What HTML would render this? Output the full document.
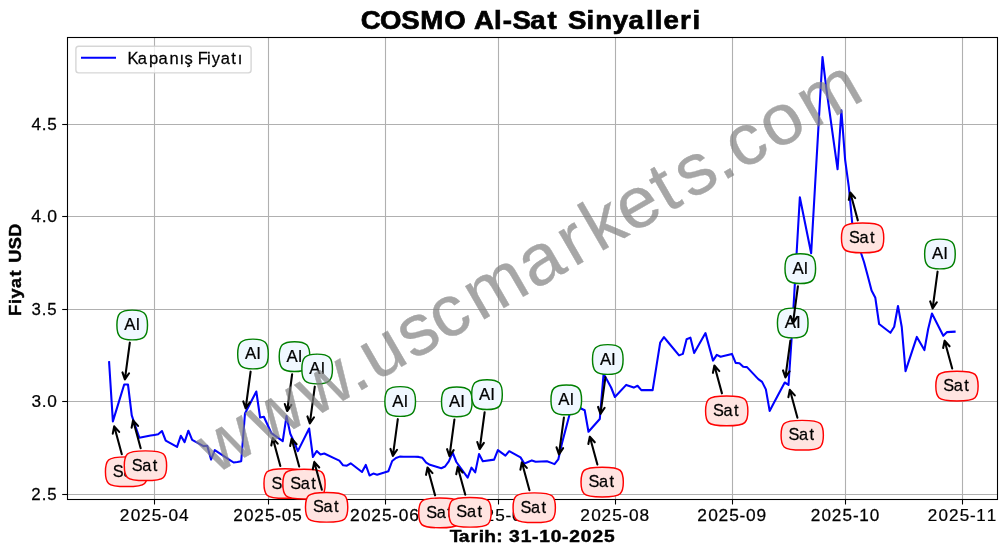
<!DOCTYPE html>
<html><head><meta charset="utf-8"><title>COSMO Al-Sat Sinyalleri</title>
<style>html,body{margin:0;padding:0;background:#fff}body{width:1006px;height:554px;overflow:hidden;font-family:"Liberation Sans",sans-serif}svg{display:block;font-family:"Liberation Sans",sans-serif}</style>
</head><body>
<svg width="1006" height="554" viewBox="0 0 1006 554">
<rect x="0" y="0" width="1006" height="554" fill="#ffffff"/>
<g opacity="0.999">
<g stroke="#b0b0b0" stroke-width="1.1" fill="none">
<line x1="154.5" y1="37.5" x2="154.5" y2="499.5"/>
<line x1="268.5" y1="37.5" x2="268.5" y2="499.5"/>
<line x1="385.5" y1="37.5" x2="385.5" y2="499.5"/>
<line x1="498.5" y1="37.5" x2="498.5" y2="499.5"/>
<line x1="615.5" y1="37.5" x2="615.5" y2="499.5"/>
<line x1="732.5" y1="37.5" x2="732.5" y2="499.5"/>
<line x1="845.5" y1="37.5" x2="845.5" y2="499.5"/>
<line x1="962.5" y1="37.5" x2="962.5" y2="499.5"/>
<line x1="67.5" y1="124.5" x2="997.5" y2="124.5"/>
<line x1="67.5" y1="216.5" x2="997.5" y2="216.5"/>
<line x1="67.5" y1="309.5" x2="997.5" y2="309.5"/>
<line x1="67.5" y1="401.5" x2="997.5" y2="401.5"/>
<line x1="67.5" y1="494.5" x2="997.5" y2="494.5"/>
</g>
<polyline points="109.11,362.2 112.88,421.4 124.2,384.5 127.98,384.5 131.75,415.4 135.53,426.55 139.3,437.7 150.63,435.6 154.4,434.9 158.17,434.2 161.95,431 165.72,440.6 177.05,446.9 180.82,435.8 184.6,442.1 188.37,430.7 192.15,439.8 203.47,446.1 207.24,445.8 211.02,459.6 214.79,450.1 218.57,452.58 229.89,460.02 233.66,462.5 237.44,462 241.21,461.2 244.99,413.5 256.31,391.5 260.09,417.5 263.86,416.8 267.63,425 271.41,433.2 282.73,441.2 286.51,416.1 290.28,433.8 294.06,442 297.83,451.1 309.15,428.5 312.93,457 316.7,451 320.48,454.5 324.25,453.5 335.58,458.83 339.35,460.6 343.12,465.3 346.9,465.7 350.67,463.3 362,472 365.77,464.9 369.55,475.5 373.32,473.6 377.1,474.7 388.42,471.2 392.19,461 395.97,458 399.74,456.6 403.52,456.7 414.84,456.8 418.62,456.9 422.39,457.8 426.16,462.6 429.94,464.8 441.26,468.2 445.04,466.5 448.81,461.3 452.59,452.5 456.36,462 467.68,477.6 471.46,467.6 475.23,472.4 479.01,454.1 482.78,461.2 494.11,459.6 497.88,450.1 501.65,452.9 505.43,455.7 509.2,451.2 520.53,457.4 524.3,463.6 528.08,462 531.85,460.4 535.62,461.7 546.95,461.2 550.72,462.65 554.5,464.1 558.27,459.4 562.05,442.9 573.37,400 577.14,404 580.92,408.5 584.69,410.3 588.47,431.8 599.79,419 603.57,374 607.34,380.5 611.11,387.5 614.89,397 626.21,384.9 629.99,386.25 633.76,387.6 637.54,385.7 641.31,390.1 652.63,390.1 656.41,366.4 660.18,342.7 663.96,337.2 667.73,341.75 679.06,355.4 682.83,353.9 686.6,339.2 690.38,337.6 694.15,353.1 705.48,333.1 709.25,346.85 713.03,360.6 716.8,354.9 720.58,356.8 731.9,353.9 735.67,362.9 739.45,363.2 743.22,366.7 747,367.1 758.32,379.1 762.09,381.9 765.87,389.4 769.64,410.9 773.42,403.8 784.74,382.5 788.52,384.9 792.29,328.1 796.07,262.7 799.84,197.3 811.16,253.2 814.94,187.8 818.71,122.4 822.49,57 826.26,88 837.58,169.3 841.36,110.2 845.13,159.8 848.91,187.6 852.68,228 864.01,262 867.78,276 871.56,290.6 875.33,297.8 879.1,324 890.43,332.8 894.2,326.8 897.98,306 901.75,327 905.53,371.1 916.85,336.9 920.62,343.5 924.4,350.1 928.17,329 931.95,313.5 943.27,335.8 947.05,332.1 950.82,331.9 954.59,331.7" fill="none" stroke="#0000ff" stroke-width="2.08" stroke-linejoin="round" stroke-linecap="square"/>
<rect x="67.5" y="37.5" width="930" height="462" fill="none" stroke="#000" stroke-width="1.1"/>
<g stroke="#000" stroke-width="1.1">
<line x1="154.5" y1="499.5" x2="154.5" y2="504.5"/>
<line x1="268.5" y1="499.5" x2="268.5" y2="504.5"/>
<line x1="385.5" y1="499.5" x2="385.5" y2="504.5"/>
<line x1="498.5" y1="499.5" x2="498.5" y2="504.5"/>
<line x1="615.5" y1="499.5" x2="615.5" y2="504.5"/>
<line x1="732.5" y1="499.5" x2="732.5" y2="504.5"/>
<line x1="845.5" y1="499.5" x2="845.5" y2="504.5"/>
<line x1="962.5" y1="499.5" x2="962.5" y2="504.5"/>
<line x1="62.2" y1="124.5" x2="67.5" y2="124.5"/>
<line x1="62.2" y1="216.5" x2="67.5" y2="216.5"/>
<line x1="62.2" y1="309.5" x2="67.5" y2="309.5"/>
<line x1="62.2" y1="401.5" x2="67.5" y2="401.5"/>
<line x1="62.2" y1="494.5" x2="67.5" y2="494.5"/>
</g>
<g fill="#000" stroke="#000" stroke-width="0.25">
<text transform="translate(154.4,521) scale(1.0154,1)" x="-34.02 -23.36 -13.13 -2.53 7.61 13.89 24.34" font-size="17px">2025-04</text>
<text transform="translate(267.63,521) scale(1.0062,1)" x="-34.28 -23.53 -13.21 -2.51 7.71 14.07 24.54" font-size="17px">2025-05</text>
<text transform="translate(384.64,521) scale(1.0206,1)" x="-33.87 -23.26 -13.09 -2.55 7.56 13.8 24.19" font-size="17px">2025-06</text>
<text transform="translate(497.88,521) scale(1.0117,1)" x="-34.12 -23.43 -13.16 -2.53 7.65 13.96 24.41" font-size="17px">2025-07</text>
<text transform="translate(614.89,521) scale(1.0169,1)" x="-33.97 -23.33 -13.12 -2.54 7.6 13.87 24.3" font-size="17px">2025-08</text>
<text transform="translate(731.9,521) scale(1.0203,1)" x="-33.88 -23.27 -13.09 -2.55 7.56 13.81 24.15" font-size="17px">2025-09</text>
<text transform="translate(845.13,521) scale(1.0083,1)" x="-34.22 -23.49 -13.19 -2.52 7.69 13.94 24.54" font-size="17px">2025-10</text>
<text transform="translate(962.14,521) scale(1.0012,1)" x="-34.43 -23.62 -13.25 -2.5 7.76 14.08 24.67" font-size="17px">2025-11</text>
<text transform="translate(57.4,130) scale(1.0103,1)" x="-25.72 -15.49 -10.04" font-size="17px">4.5</text>
<text transform="translate(57.4,222) scale(1.0359,1)" x="-25.2 -15.16 -9.85" font-size="17px">4.0</text>
<text transform="translate(57.4,315) scale(0.9909,1)" x="-26.11 -15.74 -10.15" font-size="17px">3.5</text>
<text transform="translate(57.4,407) scale(1.0174,1)" x="-25.55 -15.4 -9.94" font-size="17px">3.0</text>
<text transform="translate(57.4,500) scale(0.9925,1)" x="-26.32 -15.72 -10.14" font-size="17px">2.5</text>
</g>
<text transform="translate(361.8,28.6) scale(1.0824,1)" x="-1.07 16.86 36.51 54.09 76.11 96.32 103.63 122.19 130.24 139.19 155.73 171.48 183 190.5 207.63 215.57 231.9 246.46 262.64 270.55 278.66 293.97 305.53" font-size="25.5px" font-weight="bold" stroke="#000" stroke-width="0.7">COSMO Al-Sat Sinyalleri</text>
<text transform="translate(449.82,541.5) scale(1.1301,1)" x="-0.17 7.84 18.23 25.56 30.48 41.06 47.05 52.4 62.67 72.74 79.05 89.3 99.38 105.66 115.95 126.18 136.49" font-size="17px" font-weight="bold" stroke="#000" stroke-width="0.45">Tarih: 31-10-2025</text>
<text transform="translate(20.85,315.83) rotate(-90) scale(1.0686,1)" x="-0.06 10.97 16.29 26.12 36.69 44.5 49.78 62.27 73.91" font-size="17px" font-weight="bold" stroke="#000" stroke-width="0.45">Fiyat USD</text>
<rect x="75.9" y="46.2" width="175.2" height="26.7" rx="2.8" ry="2.8" fill="#ffffff" fill-opacity="0.8" stroke="#cccccc" stroke-opacity="0.8" stroke-width="1.4"/>
<line x1="81" y1="57.7" x2="116" y2="57.7" stroke="#0000ff" stroke-width="2.08"/>
<text transform="translate(127.26,63.6) scale(0.9730,1)" x="0.37 10.83 22.26 32.2 43.54 53.68 58.74 67.7 72.5 81.89 86.97 96.19 106.99 113.53" font-size="17px" stroke="#000" stroke-width="0.25">Kapanış Fiyatı</text>
<g>
<path d="M121.81,454.17 L114.22,426.32 M119.19,431.88 L114.22,426.32 L112.76,433.63" fill="none" stroke="#000" stroke-width="2.08" stroke-linecap="round" stroke-linejoin="round"/>
<path d="M108.56,459.98 C112.73,455.81 140.43,455.81 144.6,459.98 C148.77,464.15 148.77,479.25 144.6,483.42 C140.43,487.59 112.73,487.59 108.56,483.42 C104.39,479.25 104.39,464.15 108.56,459.98 Z" fill="#ffe4e1" stroke="#ff0000" stroke-width="1.45"/>
<text transform="translate(126.58,476.85) scale(0.9597,1)" x="-14.3 -3.25 7.64" font-size="17px" stroke="#000" stroke-width="0.25">Sat</text>
</g>
<g>
<path d="M129.83,342.66 L124.88,379.45 M122.47,372.39 L124.88,379.45 L129.07,373.28" fill="none" stroke="#000" stroke-width="2.08" stroke-linecap="round" stroke-linejoin="round"/>
<path d="M120.03,313.23 C124.2,309.06 140.21,309.06 144.38,313.23 C148.55,317.4 148.55,332.6 144.38,336.77 C140.21,340.94 124.2,340.94 120.03,336.77 C115.86,332.6 115.86,317.4 120.03,313.23 Z" fill="#f0f8ff" stroke="#008000" stroke-width="1.45"/>
<text transform="translate(132.2,330.2) scale(0.9893,1)" x="-8.01 3.87" font-size="17px" stroke="#000" stroke-width="0.25">Al</text>
</g>
<g>
<path d="M140.68,448.17 L133.09,420.32 M138.06,425.88 L133.09,420.32 L131.63,427.63" fill="none" stroke="#000" stroke-width="2.08" stroke-linecap="round" stroke-linejoin="round"/>
<path d="M127.43,453.98 C131.6,449.81 159.31,449.81 163.48,453.98 C167.65,458.15 167.65,473.25 163.48,477.42 C159.31,481.59 131.6,481.59 127.43,477.42 C123.26,473.25 123.26,458.15 127.43,453.98 Z" fill="#ffe4e1" stroke="#ff0000" stroke-width="1.45"/>
<text transform="translate(145.45,470.85) scale(0.9597,1)" x="-14.3 -3.25 7.64" font-size="17px" stroke="#000" stroke-width="0.25">Sat</text>
</g>
<g>
<path d="M250.61,371.66 L245.67,408.45 M243.26,401.39 L245.67,408.45 L249.86,402.28" fill="none" stroke="#000" stroke-width="2.08" stroke-linecap="round" stroke-linejoin="round"/>
<path d="M240.82,342.23 C244.99,338.06 260.99,338.06 265.16,342.23 C269.33,346.4 269.33,361.6 265.16,365.77 C260.99,369.94 244.99,369.94 240.82,365.77 C236.65,361.6 236.65,346.4 240.82,342.23 Z" fill="#f0f8ff" stroke="#008000" stroke-width="1.45"/>
<text transform="translate(252.99,359.2) scale(0.9893,1)" x="-8.01 3.87" font-size="17px" stroke="#000" stroke-width="0.25">Al</text>
</g>
<g>
<path d="M280.33,465.97 L272.75,438.12 M277.72,443.68 L272.75,438.12 L271.29,445.43" fill="none" stroke="#000" stroke-width="2.08" stroke-linecap="round" stroke-linejoin="round"/>
<path d="M267.09,471.78 C271.26,467.61 298.96,467.61 303.13,471.78 C307.3,475.95 307.3,491.05 303.13,495.22 C298.96,499.39 271.26,499.39 267.09,495.22 C262.92,491.05 262.92,475.95 267.09,471.78 Z" fill="#ffe4e1" stroke="#ff0000" stroke-width="1.45"/>
<text transform="translate(285.11,488.65) scale(0.9597,1)" x="-14.3 -3.25 7.64" font-size="17px" stroke="#000" stroke-width="0.25">Sat</text>
</g>
<g>
<path d="M292.13,374.26 L287.19,411.05 M284.78,403.99 L287.19,411.05 L291.38,404.88" fill="none" stroke="#000" stroke-width="2.08" stroke-linecap="round" stroke-linejoin="round"/>
<path d="M282.34,344.83 C286.51,340.66 302.51,340.66 306.68,344.83 C310.85,349 310.85,364.2 306.68,368.37 C302.51,372.54 286.51,372.54 282.34,368.37 C278.17,364.2 278.17,349 282.34,344.83 Z" fill="#f0f8ff" stroke="#008000" stroke-width="1.45"/>
<text transform="translate(294.51,361.8) scale(0.9893,1)" x="-8.01 3.87" font-size="17px" stroke="#000" stroke-width="0.25">Al</text>
</g>
<g>
<path d="M299.21,466.57 L291.62,438.72 M296.59,444.28 L291.62,438.72 L290.16,446.03" fill="none" stroke="#000" stroke-width="2.08" stroke-linecap="round" stroke-linejoin="round"/>
<path d="M285.96,472.38 C290.13,468.21 317.83,468.21 322,472.38 C326.17,476.55 326.17,491.65 322,495.82 C317.83,499.99 290.13,499.99 285.96,495.82 C281.79,491.65 281.79,476.55 285.96,472.38 Z" fill="#ffe4e1" stroke="#ff0000" stroke-width="1.45"/>
<text transform="translate(303.98,489.25) scale(0.9597,1)" x="-14.3 -3.25 7.64" font-size="17px" stroke="#000" stroke-width="0.25">Sat</text>
</g>
<g>
<path d="M314.78,386.66 L309.83,423.45 M307.42,416.39 L309.83,423.45 L314.02,417.28" fill="none" stroke="#000" stroke-width="2.08" stroke-linecap="round" stroke-linejoin="round"/>
<path d="M304.98,357.23 C309.15,353.06 325.16,353.06 329.33,357.23 C333.5,361.4 333.5,376.6 329.33,380.77 C325.16,384.94 309.15,384.94 304.98,380.77 C300.81,376.6 300.81,361.4 304.98,357.23 Z" fill="#f0f8ff" stroke="#008000" stroke-width="1.45"/>
<text transform="translate(317.15,374.2) scale(0.9893,1)" x="-8.01 3.87" font-size="17px" stroke="#000" stroke-width="0.25">Al</text>
</g>
<g>
<path d="M321.85,489.77 L314.27,461.92 M319.24,467.48 L314.27,461.92 L312.81,469.23" fill="none" stroke="#000" stroke-width="2.08" stroke-linecap="round" stroke-linejoin="round"/>
<path d="M308.61,495.58 C312.78,491.41 340.48,491.41 344.65,495.58 C348.82,499.75 348.82,514.85 344.65,519.02 C340.48,523.19 312.78,523.19 308.61,519.02 C304.44,514.85 304.44,499.75 308.61,495.58 Z" fill="#ffe4e1" stroke="#ff0000" stroke-width="1.45"/>
<text transform="translate(326.63,512.45) scale(0.9597,1)" x="-14.3 -3.25 7.64" font-size="17px" stroke="#000" stroke-width="0.25">Sat</text>
</g>
<g>
<path d="M397.82,419.16 L392.87,455.95 M390.46,448.89 L392.87,455.95 L397.06,449.78" fill="none" stroke="#000" stroke-width="2.08" stroke-linecap="round" stroke-linejoin="round"/>
<path d="M388.02,389.73 C392.19,385.56 408.2,385.56 412.37,389.73 C416.54,393.9 416.54,409.1 412.37,413.27 C408.2,417.44 392.19,417.44 388.02,413.27 C383.85,409.1 383.85,393.9 388.02,389.73 Z" fill="#f0f8ff" stroke="#008000" stroke-width="1.45"/>
<text transform="translate(400.19,406.7) scale(0.9893,1)" x="-8.01 3.87" font-size="17px" stroke="#000" stroke-width="0.25">Al</text>
</g>
<g>
<path d="M435.09,495.37 L427.5,467.52 M432.47,473.08 L427.5,467.52 L426.04,474.83" fill="none" stroke="#000" stroke-width="2.08" stroke-linecap="round" stroke-linejoin="round"/>
<path d="M421.84,501.18 C426.01,497.01 453.72,497.01 457.89,501.18 C462.06,505.35 462.06,520.45 457.89,524.62 C453.72,528.79 426.01,528.79 421.84,524.62 C417.67,520.45 417.67,505.35 421.84,501.18 Z" fill="#ffe4e1" stroke="#ff0000" stroke-width="1.45"/>
<text transform="translate(439.86,518.05) scale(0.9597,1)" x="-14.3 -3.25 7.64" font-size="17px" stroke="#000" stroke-width="0.25">Sat</text>
</g>
<g>
<path d="M454.44,419.46 L449.49,456.25 M447.08,449.19 L449.49,456.25 L453.68,450.08" fill="none" stroke="#000" stroke-width="2.08" stroke-linecap="round" stroke-linejoin="round"/>
<path d="M444.64,390.03 C448.81,385.86 464.81,385.86 468.98,390.03 C473.15,394.2 473.15,409.4 468.98,413.57 C464.81,417.74 448.81,417.74 444.64,413.57 C440.47,409.4 440.47,394.2 444.64,390.03 Z" fill="#f0f8ff" stroke="#008000" stroke-width="1.45"/>
<text transform="translate(456.81,407) scale(0.9893,1)" x="-8.01 3.87" font-size="17px" stroke="#000" stroke-width="0.25">Al</text>
</g>
<g>
<path d="M465.28,494.77 L457.7,466.92 M462.67,472.48 L457.7,466.92 L456.24,474.23" fill="none" stroke="#000" stroke-width="2.08" stroke-linecap="round" stroke-linejoin="round"/>
<path d="M452.04,500.58 C456.21,496.41 483.91,496.41 488.08,500.58 C492.25,504.75 492.25,519.85 488.08,524.02 C483.91,528.19 456.21,528.19 452.04,524.02 C447.87,519.85 447.87,504.75 452.04,500.58 Z" fill="#ffe4e1" stroke="#ff0000" stroke-width="1.45"/>
<text transform="translate(470.06,517.45) scale(0.9597,1)" x="-14.3 -3.25 7.64" font-size="17px" stroke="#000" stroke-width="0.25">Sat</text>
</g>
<g>
<path d="M484.63,412.26 L479.69,449.05 M477.28,441.99 L479.69,449.05 L483.88,442.88" fill="none" stroke="#000" stroke-width="2.08" stroke-linecap="round" stroke-linejoin="round"/>
<path d="M474.83,382.83 C479,378.66 495.01,378.66 499.18,382.83 C503.35,387 503.35,402.2 499.18,406.37 C495.01,410.54 479,410.54 474.83,406.37 C470.66,402.2 470.66,387 474.83,382.83 Z" fill="#f0f8ff" stroke="#008000" stroke-width="1.45"/>
<text transform="translate(487.01,399.8) scale(0.9893,1)" x="-8.01 3.87" font-size="17px" stroke="#000" stroke-width="0.25">Al</text>
</g>
<g>
<path d="M529.45,490.17 L521.87,462.32 M526.83,467.88 L521.87,462.32 L520.41,469.63" fill="none" stroke="#000" stroke-width="2.08" stroke-linecap="round" stroke-linejoin="round"/>
<path d="M516.2,495.98 C520.37,491.81 548.08,491.81 552.25,495.98 C556.42,500.15 556.42,515.25 552.25,519.42 C548.08,523.59 520.37,523.59 516.2,519.42 C512.03,515.25 512.03,500.15 516.2,495.98 Z" fill="#ffe4e1" stroke="#ff0000" stroke-width="1.45"/>
<text transform="translate(534.23,512.85) scale(0.9597,1)" x="-14.3 -3.25 7.64" font-size="17px" stroke="#000" stroke-width="0.25">Sat</text>
</g>
<g>
<path d="M563.9,417.56 L558.95,454.35 M556.54,447.29 L558.95,454.35 L563.14,448.18" fill="none" stroke="#000" stroke-width="2.08" stroke-linecap="round" stroke-linejoin="round"/>
<path d="M554.1,388.13 C558.27,383.96 574.27,383.96 578.44,388.13 C582.61,392.3 582.61,407.5 578.44,411.67 C574.27,415.84 558.27,415.84 554.1,411.67 C549.93,407.5 549.93,392.3 554.1,388.13 Z" fill="#f0f8ff" stroke="#008000" stroke-width="1.45"/>
<text transform="translate(566.27,405.1) scale(0.9893,1)" x="-8.01 3.87" font-size="17px" stroke="#000" stroke-width="0.25">Al</text>
</g>
<g>
<path d="M597.39,464.57 L589.81,436.72 M594.77,442.28 L589.81,436.72 L588.35,444.03" fill="none" stroke="#000" stroke-width="2.08" stroke-linecap="round" stroke-linejoin="round"/>
<path d="M584.14,470.38 C588.31,466.21 616.02,466.21 620.19,470.38 C624.36,474.55 624.36,489.65 620.19,493.82 C616.02,497.99 588.31,497.99 584.14,493.82 C579.98,489.65 579.98,474.55 584.14,470.38 Z" fill="#ffe4e1" stroke="#ff0000" stroke-width="1.45"/>
<text transform="translate(602.17,487.25) scale(0.9597,1)" x="-14.3 -3.25 7.64" font-size="17px" stroke="#000" stroke-width="0.25">Sat</text>
</g>
<g>
<path d="M605.42,377.16 L600.47,413.95 M598.06,406.89 L600.47,413.95 L604.66,407.78" fill="none" stroke="#000" stroke-width="2.08" stroke-linecap="round" stroke-linejoin="round"/>
<path d="M595.62,347.73 C599.79,343.56 615.79,343.56 619.96,347.73 C624.13,351.9 624.13,367.1 619.96,371.27 C615.79,375.44 599.79,375.44 595.62,371.27 C591.45,367.1 591.45,351.9 595.62,347.73 Z" fill="#f0f8ff" stroke="#008000" stroke-width="1.45"/>
<text transform="translate(607.79,364.7) scale(0.9893,1)" x="-8.01 3.87" font-size="17px" stroke="#000" stroke-width="0.25">Al</text>
</g>
<g>
<path d="M721.95,393.37 L714.37,365.52 M719.33,371.08 L714.37,365.52 L712.91,372.83" fill="none" stroke="#000" stroke-width="2.08" stroke-linecap="round" stroke-linejoin="round"/>
<path d="M708.7,399.18 C712.87,395.01 740.58,395.01 744.75,399.18 C748.92,403.35 748.92,418.45 744.75,422.62 C740.58,426.79 712.87,426.79 708.7,422.62 C704.53,418.45 704.53,403.35 708.7,399.18 Z" fill="#ffe4e1" stroke="#ff0000" stroke-width="1.45"/>
<text transform="translate(726.73,416.05) scale(0.9597,1)" x="-14.3 -3.25 7.64" font-size="17px" stroke="#000" stroke-width="0.25">Sat</text>
</g>
<g>
<path d="M790.37,340.66 L785.42,377.45 M783.01,370.39 L785.42,377.45 L789.61,371.28" fill="none" stroke="#000" stroke-width="2.08" stroke-linecap="round" stroke-linejoin="round"/>
<path d="M780.57,311.23 C784.74,307.06 800.74,307.06 804.91,311.23 C809.08,315.4 809.08,330.6 804.91,334.77 C800.74,338.94 784.74,338.94 780.57,334.77 C776.4,330.6 776.4,315.4 780.57,311.23 Z" fill="#f0f8ff" stroke="#008000" stroke-width="1.45"/>
<text transform="translate(792.74,328.2) scale(0.9893,1)" x="-8.01 3.87" font-size="17px" stroke="#000" stroke-width="0.25">Al</text>
</g>
<g>
<path d="M797.44,417.67 L789.86,389.82 M794.82,395.38 L789.86,389.82 L788.4,397.13" fill="none" stroke="#000" stroke-width="2.08" stroke-linecap="round" stroke-linejoin="round"/>
<path d="M784.19,423.48 C788.36,419.31 816.07,419.31 820.24,423.48 C824.41,427.65 824.41,442.75 820.24,446.92 C816.07,451.09 788.36,451.09 784.19,446.92 C780.02,442.75 780.02,427.65 784.19,423.48 Z" fill="#ffe4e1" stroke="#ff0000" stroke-width="1.45"/>
<text transform="translate(802.22,440.35) scale(0.9597,1)" x="-14.3 -3.25 7.64" font-size="17px" stroke="#000" stroke-width="0.25">Sat</text>
</g>
<g>
<path d="M797.92,286.26 L792.97,323.05 M790.56,315.99 L792.97,323.05 L797.16,316.88" fill="none" stroke="#000" stroke-width="2.08" stroke-linecap="round" stroke-linejoin="round"/>
<path d="M788.12,256.83 C792.29,252.66 808.29,252.66 812.46,256.83 C816.63,261 816.63,276.2 812.46,280.37 C808.29,284.54 792.29,284.54 788.12,280.37 C783.95,276.2 783.95,261 788.12,256.83 Z" fill="#f0f8ff" stroke="#008000" stroke-width="1.45"/>
<text transform="translate(800.29,273.8) scale(0.9893,1)" x="-8.01 3.87" font-size="17px" stroke="#000" stroke-width="0.25">Al</text>
</g>
<g>
<path d="M857.83,220.37 L850.25,192.52 M855.21,198.08 L850.25,192.52 L848.79,199.83" fill="none" stroke="#000" stroke-width="2.08" stroke-linecap="round" stroke-linejoin="round"/>
<path d="M844.59,226.18 C848.76,222.01 876.46,222.01 880.63,226.18 C884.8,230.35 884.8,245.45 880.63,249.62 C876.46,253.79 848.76,253.79 844.59,249.62 C840.42,245.45 840.42,230.35 844.59,226.18 Z" fill="#ffe4e1" stroke="#ff0000" stroke-width="1.45"/>
<text transform="translate(862.61,243.05) scale(0.9597,1)" x="-14.3 -3.25 7.64" font-size="17px" stroke="#000" stroke-width="0.25">Sat</text>
</g>
<g>
<path d="M937.57,271.66 L932.63,308.45 M930.22,301.39 L932.63,308.45 L936.82,302.28" fill="none" stroke="#000" stroke-width="2.08" stroke-linecap="round" stroke-linejoin="round"/>
<path d="M927.77,242.23 C931.94,238.06 947.95,238.06 952.12,242.23 C956.29,246.4 956.29,261.6 952.12,265.77 C947.95,269.94 931.94,269.94 927.77,265.77 C923.6,261.6 923.6,246.4 927.77,242.23 Z" fill="#f0f8ff" stroke="#008000" stroke-width="1.45"/>
<text transform="translate(939.95,259.2) scale(0.9893,1)" x="-8.01 3.87" font-size="17px" stroke="#000" stroke-width="0.25">Al</text>
</g>
<g>
<path d="M952.2,368.57 L944.61,340.72 M949.58,346.28 L944.61,340.72 L943.15,348.03" fill="none" stroke="#000" stroke-width="2.08" stroke-linecap="round" stroke-linejoin="round"/>
<path d="M938.95,374.38 C943.12,370.21 970.82,370.21 974.99,374.38 C979.16,378.55 979.16,393.65 974.99,397.82 C970.82,401.99 943.12,401.99 938.95,397.82 C934.78,393.65 934.78,378.55 938.95,374.38 Z" fill="#ffe4e1" stroke="#ff0000" stroke-width="1.45"/>
<text transform="translate(956.97,391.25) scale(0.9597,1)" x="-14.3 -3.25 7.64" font-size="17px" stroke="#000" stroke-width="0.25">Sat</text>
</g>
<g opacity="0.7">
<text transform="translate(213.18,475.63) rotate(-30) scale(1.0144,1)" x="1.88 57.87 113.86 162.54 184.95 227.14 262.49 303.63 365.17 410.24 439.25 475.24 516.99 543.35 579.57 600.46 639.03 683.48" font-size="72.22px" fill="#808080" stroke="#808080" stroke-width="0.4">www.uscmarkets.com</text>
</g>
</g>
</svg>
</body></html>
